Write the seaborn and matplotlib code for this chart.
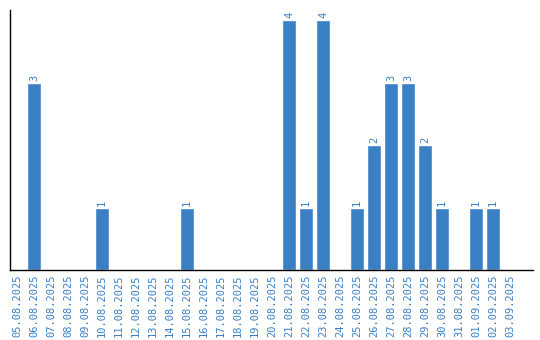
import matplotlib
matplotlib.use("Agg")
import matplotlib.pyplot as plt
import seaborn as sns
import pandas as pd

dates = ["05.08.2025", "06.08.2025", "07.08.2025", "08.08.2025", "09.08.2025",
         "10.08.2025", "11.08.2025", "12.08.2025", "13.08.2025", "14.08.2025",
         "15.08.2025", "16.08.2025", "17.08.2025", "18.08.2025", "19.08.2025",
         "20.08.2025", "21.08.2025", "22.08.2025", "23.08.2025", "24.08.2025",
         "25.08.2025", "26.08.2025", "27.08.2025", "28.08.2025", "29.08.2025",
         "30.08.2025", "31.08.2025", "01.09.2025", "02.09.2025", "03.09.2025"]
counts = [0, 3, 0, 0, 0, 1, 0, 0, 0, 0, 1, 0, 0, 0, 0,
          0, 4, 1, 4, 0, 1, 2, 3, 3, 2, 1, 0, 1, 1, 0]

color = "#3b7fc4"
df = pd.DataFrame({"date": dates, "count": counts})

sns.set_style("white")
plt.rcParams['font.family'] = ['DejaVu Sans Mono', 'DejaVu Sans']

fig = plt.figure(figsize=(5.4, 3.4), dpi=100)
ax = fig.add_axes([10/540, 70/340, 523/540, 260/340])
sns.barplot(data=df, x="date", y="count", color=color, saturation=1, width=0.82, ax=ax)

ax.set_ylim(0, 4.16)
ax.set_xlim(-0.41, 30.35)
ax.set_xlabel("")
ax.set_ylabel("")
ax.set_yticks([])
ax.tick_params(axis="x", labelrotation=90, labelsize=7.5, colors=color, length=0, pad=3)
for lbl in ax.get_xticklabels():
    lbl.set_color(color)
for s in ["top", "right"]:
    ax.spines[s].set_visible(False)
for s in ["left", "bottom"]:
    ax.spines[s].set_color("black")
    ax.spines[s].set_linewidth(1)

for i, v in enumerate(counts):
    if v > 0:
        ax.text(i, v + 0.03, str(v), rotation=90, ha="center", va="bottom",
                fontsize=7.5, color=color)

fig.savefig("out.png", dpi=100)
